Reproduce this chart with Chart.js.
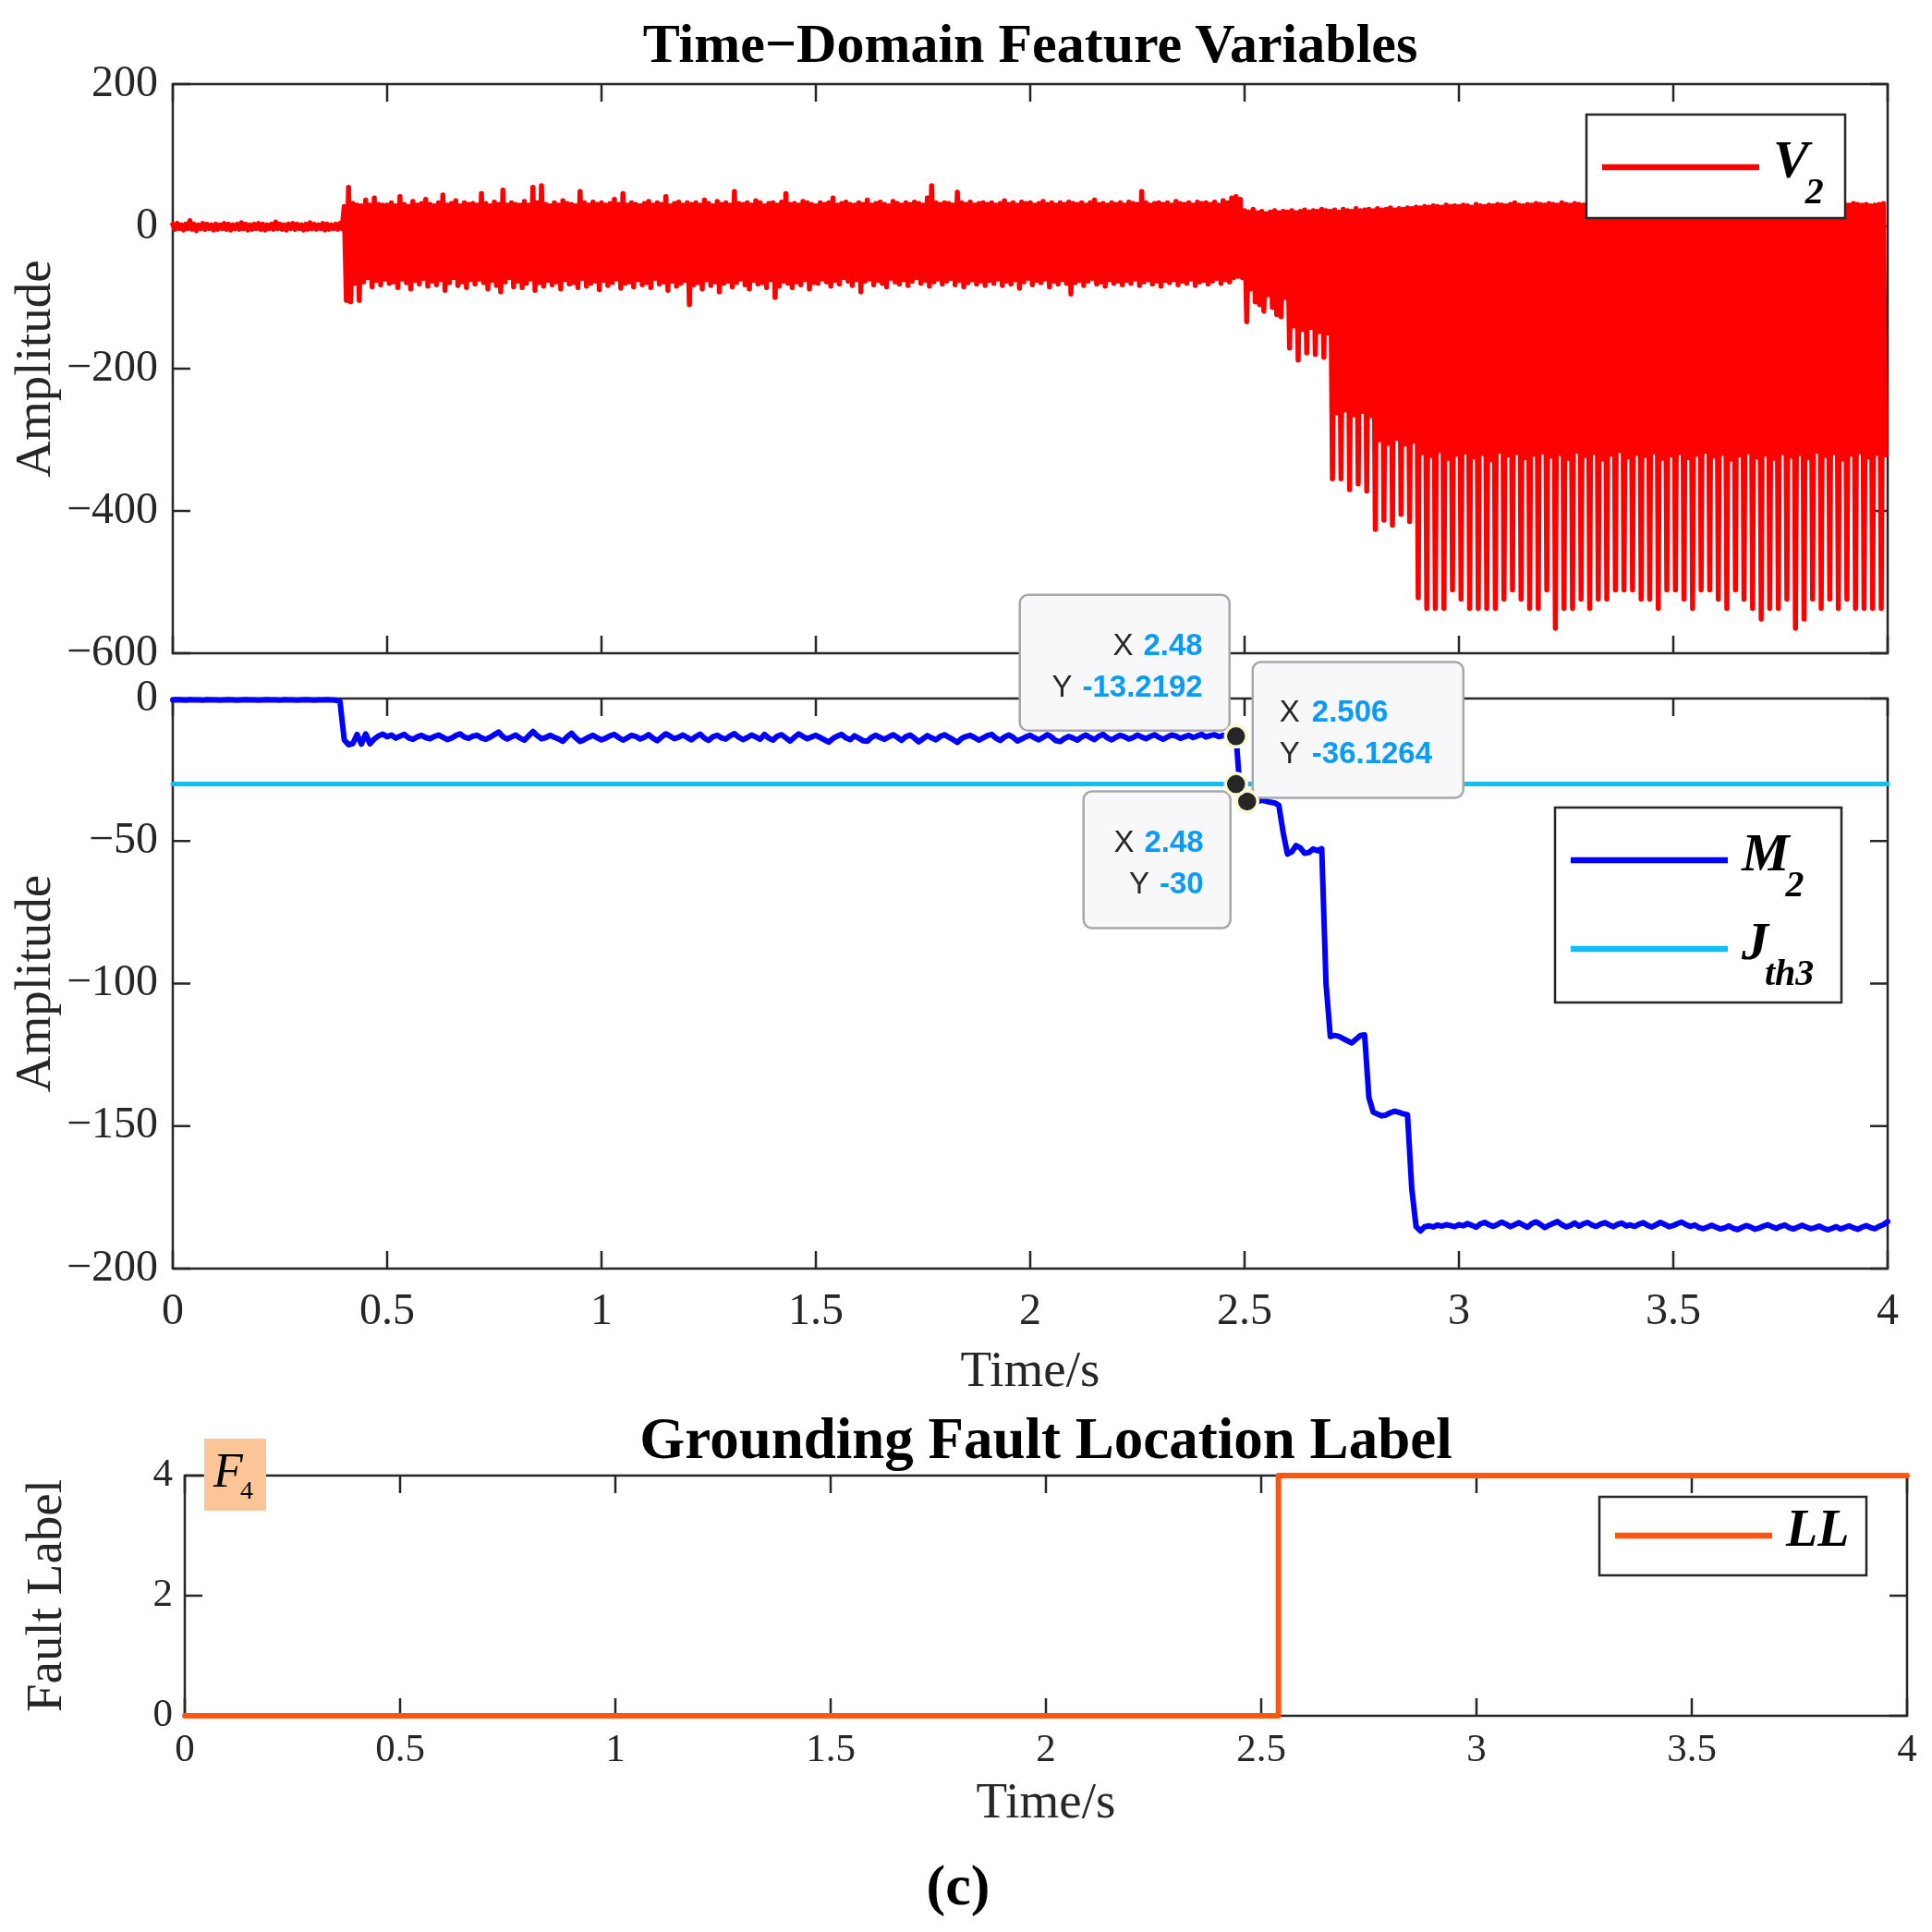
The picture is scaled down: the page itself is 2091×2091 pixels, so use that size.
<!DOCTYPE html>
<html>
<head>
<meta charset="utf-8">
<title>Time-Domain Feature Variables</title>
<script src="https://cdn.jsdelivr.net/npm/chart.js@4.4.1/dist/chart.umd.min.js"></script>
<style>
  html, body { margin: 0; padding: 0; background: #fff; }
  #figure { position: relative; width: 2091px; height: 2091px; overflow: hidden; background: #fff; }
  #figure canvas { position: absolute; left: 0; }
  .label { position: absolute; transform: translate(-50%, -50%); white-space: nowrap; line-height: 1;
           font-family: 'Liberation Serif', 'Times New Roman', serif; font-weight: bold; color: #000; }
</style>
</head>
<body>
<div id="figure">
  <canvas id="chartV2" width="2091" height="760" style="top:0px"></canvas>
  <canvas id="chartM2" width="2091" height="900" style="top:620px"></canvas>
  <canvas id="chartLabel" width="2091" height="480" style="top:1520px"></canvas>
  <div class="label" style="left:1115px;top:47px;font-size:60px">Time−Domain Feature Variables</div>
  <div class="label" style="left:1132px;top:1557px;font-size:63px">Grounding Fault Location Label</div>
  <div class="label" style="left:1037px;top:2040px;font-size:62px">(c)</div>
</div>
<script>
const FONT = "'Liberation Serif', 'Times New Roman', serif";
const SANS = "'Liberation Sans', Arial, sans-serif";
const INK = '#262626';

// sampling step of the recorded signals (seconds)
const sampleStep = 0.01;

// tick labels
const timeTicks = [0, 0.5, 1, 1.5, 2, 2.5, 3, 3.5, 4];
const v2Ticks = [-600, -400, -200, 0, 200];
const m2Ticks = [-200, -150, -100, -50, 0];
const labelTicks = [0, 2, 4];

// V2: local maximum / minimum of each 0.01 s sample window
const v2Upper = [
  3, 4, 2, 3, 8, 3, 2, 4, 3, 2,   3, 2, 4, 3, 2, 3, 5, 3, 2, 3,
  4, 3, 2, 3, 6, 3, 2, 3, 4, 3,   2, 3, 5, 3, 2, 4, 3, 2, 3, 4,
  28, 55, 32, 30, 29, 37, 30, 40, 31, 30,   30, 33, 29, 42, 31, 28, 35, 30, 32, 38,
  31, 29, 33, 44, 30, 32, 36, 29, 33, 31,   32, 30, 46, 32, 29, 34, 31, 51, 30, 33,
  31, 30, 35, 30, 55, 33, 57, 31, 29, 33,   30, 36, 32, 31, 29, 49, 33, 30, 34, 31,
  33, 30, 32, 38, 31, 46, 30, 33, 31, 29,   32, 35, 30, 33, 31, 42, 29, 32, 34, 30,
  33, 31, 33, 30, 37, 32, 29, 35, 31, 33,   30, 49, 32, 31, 33, 30, 36, 33, 29, 32,
  33, 30, 34, 46, 31, 32, 30, 35, 33, 31,   29, 33, 31, 33, 40, 30, 32, 34, 31, 30,
  33, 31, 37, 30, 32, 34, 31, 29, 35, 32,   30, 33, 31, 34, 32, 30, 40, 57, 33, 31,
  33, 32, 30, 48, 33, 31, 34, 30, 32, 33,   31, 33, 30, 32, 36, 31, 33, 30, 34, 32,
  33, 30, 32, 35, 31, 33, 30, 33, 31, 34,   32, 31, 33, 30, 33, 37, 31, 32, 30, 33,
  31, 33, 30, 34, 32, 31, 49, 33, 30, 32,   33, 31, 33, 30, 35, 32, 31, 33, 30, 34,
  32, 33, 31, 34, 30, 36, 33, 40, 42, 38,   22, 20, 24, 19, 21, 18, 20, 22, 19, 21,
  20, 22, 19, 21, 23, 20, 22, 21, 24, 22,   21, 23, 20, 24, 22, 21, 25, 22, 23, 24,
  22, 25, 23, 24, 26, 23, 25, 24, 26, 25,   27, 26, 28, 27, 29, 28, 27, 30, 28, 29,
  28, 30, 29, 27, 31, 29, 28, 30, 29, 31,   30, 29, 31, 33, 30, 29, 31, 30, 32, 31,
  30, 32, 31, 30, 33, 31, 30, 32, 31, 30,   32, 31, 33, 30, 31, 32, 30, 31, 33, 31,
  30, 32, 31, 33, 30, 31, 32, 30, 31, 32,   31, 30, 32, 31, 30, 33, 31, 30, 32, 31,
  30, 31, 32, 30, 31, 33, 30, 32, 31, 30,   31, 32, 30, 31, 33, 30, 31, 32, 30, 31,
  32, 30, 31, 30, 32, 31, 30, 31, 32, 30,   31, 30, 32, 31, 30, 31, 29, 30, 31, 32
];
const v2Lower = [
  -4, -3, -5, -3, -4, -6, -3, -4, -3, -5,   -4, -3, -4, -5, -3, -4, -3, -5, -4, -3,
  -4, -5, -3, -4, -3, -4, -5, -3, -4, -3,   -5, -4, -3, -4, -3, -5, -4, -3, -4, -3,
  -104, -106, -80, -104, -78, -72, -85, -76, -82, -74,   -80, -78, -86, -74, -79, -88, -76, -81, -73, -84,
  -77, -82, -75, -90, -79, -72, -83, -78, -86, -75,   -81, -74, -79, -88, -76, -83, -92, -78, -72, -85,
  -77, -86, -80, -74, -90, -79, -84, -76, -82, -78,   -88, -75, -81, -79, -86, -73, -84, -80, -77, -89,
  -76, -83, -79, -74, -87, -80, -78, -85, -75, -82,   -79, -86, -73, -81, -78, -90, -77, -84, -80, -76,
  -110, -82, -79, -88, -75, -83, -78, -92, -80, -77,   -85, -79, -74, -82, -88, -76, -81, -79, -86, -75,
  -100, -84, -77, -80, -86, -78, -82, -75, -88, -79,   -80, -74, -78, -84, -76, -81, -72, -77, -83, -75,
  -92, -77, -74, -82, -76, -80, -85, -73, -78, -81,   -75, -83, -77, -72, -80, -76, -84, -78, -74, -81,
  -77, -73, -82, -76, -85, -79, -75, -81, -77, -83,   -76, -80, -74, -83, -77, -81, -75, -87, -78, -73,
  -82, -76, -79, -74, -85, -77, -81, -75, -80, -95,   -79, -76, -83, -77, -73, -81, -78, -84, -75, -80,
  -77, -82, -76, -80, -74, -83, -78, -75, -81, -77,   -84, -76, -79, -75, -82, -77, -80, -74, -83, -78,
  -76, -81, -77, -73, -80, -75, -78, -72, -70, -72,   -134, -88, -106, -110, -119, -96, -114, -124, -127, -100,
  -171, -140, -188, -145, -178, -142, -180, -148, -184, -150,   -355, -262, -355, -258, -370, -265, -362, -260, -372, -266,
  -426, -300, -413, -305, -420, -298, -405, -306, -415, -302,   -522, -318, -537, -322, -537, -315, -537, -326, -511, -320,
  -524, -317, -537, -324, -537, -319, -537, -328, -537, -316,   -524, -321, -511, -318, -524, -325, -537, -320, -537, -317,
  -511, -323, -565, -319, -537, -326, -537, -316, -524, -322,   -537, -318, -524, -327, -524, -320, -511, -315, -511, -324,
  -511, -319, -524, -322, -524, -317, -537, -326, -511, -321,   -511, -318, -524, -325, -537, -320, -511, -316, -511, -323,
  -524, -319, -537, -327, -511, -321, -524, -317, -537, -324,   -552, -320, -537, -326, -537, -318, -524, -323, -565, -319,
  -552, -325, -524, -316, -537, -322, -524, -318, -537, -327,   -524, -320, -537, -317, -537, -324, -537, -319, -537, -321
];

// M2: one value every 0.01 s from 0 to 4 s
const m2Values = [
  -0.5, -0.4, -0.5, -0.6, -0.4, -0.5, -0.5, -0.6, -0.4, -0.5,
  -0.5, -0.6, -0.5, -0.4, -0.5, -0.6, -0.5, -0.4, -0.5, -0.5,
  -0.6, -0.5, -0.4, -0.5, -0.5, -0.6, -0.4, -0.5, -0.5, -0.6,
  -0.5, -0.4, -0.5, -0.6, -0.5, -0.5, -0.4, -0.5, -0.6, -1.0,
  -14.5, -16.2, -15.8, -12.6, -16.0, -12.4, -15.9, -14.2, -13.1, -12.5,
  -13.4, -12.8, -13.9, -13.2, -12.6, -13.8, -14.3, -13.5, -12.9, -13.7,
  -14.1, -13.3, -12.8, -13.6, -14.4, -13.9, -13.0, -12.4, -13.5, -14.0,
  -13.2, -12.9, -13.8, -14.3, -13.6, -12.7, -11.8, -13.4, -14.2, -13.5,
  -12.8, -13.9, -14.6, -13.1, -11.6, -13.0, -14.1, -13.7, -12.9, -13.6,
  -14.2, -15.0, -13.4, -12.2, -13.8, -15.1, -14.4, -13.6, -12.9, -13.8,
  -14.5, -13.9, -13.1, -12.6, -13.7, -14.6, -13.8, -12.9, -13.3, -14.2,
  -13.6, -12.7, -13.9, -14.8, -13.5, -12.4, -13.2, -14.1, -13.6, -12.8,
  -13.7, -14.5, -13.3, -12.5, -13.9, -14.7, -13.4, -12.9, -13.8, -14.2,
  -13.1, -12.3, -13.6, -14.4, -13.7, -12.8, -13.5, -14.3, -12.6, -13.9,
  -14.6, -13.2, -12.7, -13.8, -14.9, -13.6, -12.4, -13.3, -14.1, -13.5,
  -12.9, -13.7, -14.5, -15.3, -14.0, -13.2, -12.6, -13.8, -14.4, -13.1,
  -13.9, -14.8, -15.0, -13.6, -12.9, -13.7, -14.3, -13.5, -12.7, -13.6,
  -14.7, -13.4, -12.8, -13.9, -15.2, -14.1, -13.0, -13.8, -14.5, -13.3,
  -12.7, -13.6, -14.4, -15.4, -14.0, -13.3, -12.9, -13.7, -14.6, -13.8,
  -13.0, -12.6, -13.9, -14.7, -13.5, -12.8, -13.6, -14.9, -14.2, -13.4,
  -12.9, -13.8, -14.5, -13.6, -12.7, -13.5, -14.8, -15.1, -14.0, -13.3,
  -13.9, -14.6, -13.5, -12.8, -13.7, -14.4, -13.2, -12.6, -13.8, -14.5,
  -13.6, -12.9, -13.4, -14.2, -13.7, -12.8, -13.5, -14.1, -13.3, -12.7,
  -13.6, -14.3, -13.5, -12.8, -13.2, -14.0, -13.4, -12.9, -13.7, -13.1,
  -12.6, -13.5, -13.0, -12.7, -13.4, -12.9, -13.6, -13.1, -13.2192, -33.5,
  -35.8, -36.3, -35.9, -36.2, -35.7, -36.0, -36.4, -36.6, -37.5, -47.0,
  -54.6, -53.8, -51.6, -52.4, -54.3, -54.0, -52.8, -53.4, -52.7, -100.0,
  -118.6, -118.2, -118.5, -119.3, -120.1, -120.8, -119.5, -118.2, -118.0, -140.0,
  -145.1, -145.8, -146.4, -146.1, -145.3, -144.8, -145.2, -145.7, -146.0, -172.0,
  -185.2, -186.8, -185.3, -185.0, -185.4, -184.7, -185.1, -184.6, -184.9, -185.3,
  -184.6, -185.0, -184.2, -184.8, -185.5, -184.3, -183.8, -184.6, -185.2, -184.5,
  -183.7, -184.4, -185.3, -184.6, -183.9, -184.7, -185.5, -184.2, -183.6, -184.5,
  -185.6, -184.8, -184.1, -183.5, -184.6, -185.4, -184.9, -184.0, -185.1, -184.3,
  -183.8, -184.7, -185.2, -184.4, -183.9, -184.6, -185.3, -184.5, -184.0, -185.0,
  -184.7, -185.2, -184.4, -183.9, -184.8, -185.4, -184.6, -183.8, -184.5, -185.3,
  -184.9, -184.2, -183.7, -184.6, -185.2, -184.7, -185.6, -186.0, -185.4, -184.8,
  -185.5, -186.1, -185.7, -185.0, -185.9, -186.3, -185.6, -184.9, -185.4, -186.2,
  -185.8, -185.1, -184.6, -185.3, -185.9, -185.2, -184.7, -185.6, -186.1, -185.5,
  -184.8, -185.4, -186.0, -185.7, -185.1, -185.8, -186.4, -185.9, -185.3, -186.1,
  -185.6, -185.0, -185.7, -186.2, -185.5, -184.9, -185.6, -186.0, -185.2, -184.6,
  -183.5
];

// threshold J_th3
const jth3Time = [0, 4];
const jth3Values = [-30, -30];

// fault label LL
const llTime = [0, 2.54, 2.54, 4];
const llValues = [0, 0, 4, 4];

// data tips shown on the M2 panel
const tipTime = [2.48, 2.506, 2.48];
const tipValue = [-13.2192, -36.1264, -30];

// build point lists for the library
const v2Points = [];
v2Upper.forEach((hi, i) => {
  v2Points.push({ x: i * sampleStep, y: hi });
  v2Points.push({ x: i * sampleStep + sampleStep / 2, y: v2Lower[i] });
});
const m2Points = m2Values.map((v, i) => ({ x: i * sampleStep, y: v }));
const jth3Points = jth3Time.map((t, i) => ({ x: t, y: jth3Values[i] }));
const llPoints = llTime.map((t, i) => ({ x: t, y: llValues[i] }));

function minusLabel(v) {
  return v < 0 ? '\u2212' + Math.abs(v) : String(v);
}

// MATLAB style box with inward ticks on all four sides
const frameTicks = {
  id: 'frameTicks',
  beforeDatasetsDraw(chart, args, opts) {
    const { ctx, chartArea: a, scales: { x, y } } = chart;
    const len = 19;
    ctx.save();
    ctx.strokeStyle = INK;
    ctx.lineWidth = 2.5;
    ctx.beginPath();
    opts.xTicks.forEach(v => {
      const px = x.getPixelForValue(v);
      ctx.moveTo(px, a.bottom); ctx.lineTo(px, a.bottom - len);
      ctx.moveTo(px, a.top); ctx.lineTo(px, a.top + len);
    });
    opts.yTicks.forEach(v => {
      const py = y.getPixelForValue(v);
      ctx.moveTo(a.left, py); ctx.lineTo(a.left + len, py);
      ctx.moveTo(a.right, py); ctx.lineTo(a.right - len, py);
    });
    ctx.stroke();
    ctx.strokeRect(a.left, a.top, a.right - a.left, a.bottom - a.top);
    ctx.restore();
  }
};

// boxed legend with italic names and subscripts
const boxLegend = {
  id: 'boxLegend',
  afterDatasetsDraw(chart, args, opts) {
    const { ctx, chartArea: a } = chart;
    const left = a.right - opts.right - opts.width;
    const top = a.top + opts.top;
    ctx.save();
    ctx.fillStyle = '#fff';
    ctx.fillRect(left, top, opts.width, opts.height);
    ctx.strokeStyle = INK;
    ctx.lineWidth = 2.5;
    ctx.strokeRect(left, top, opts.width, opts.height);
    opts.rows.forEach(row => {
      const ds = chart.data.datasets[row.dataset];
      const ry = top + row.y;
      ctx.strokeStyle = ds.borderColor;
      ctx.lineWidth = 6.5;
      ctx.beginPath();
      ctx.moveTo(left + 17, ry);
      ctx.lineTo(left + 187, ry);
      ctx.stroke();
      ctx.fillStyle = '#000';
      ctx.textBaseline = 'alphabetic';
      ctx.textAlign = 'left';
      ctx.font = 'italic bold ' + opts.size + 'px ' + FONT;
      const tx = left + 202;
      ctx.fillText(row.name, tx, ry + 11);
      const w = ctx.measureText(row.name).width;
      if (row.sub) {
        ctx.font = 'italic bold 40px ' + FONT;
        ctx.fillText(row.sub, tx + w - 4, ry + 39);
      }
    });
    ctx.restore();
  }
};

function roundedBox(ctx, x, y, w, h, r) {
  ctx.beginPath();
  ctx.moveTo(x + r, y);
  ctx.arcTo(x + w, y, x + w, y + h, r);
  ctx.arcTo(x + w, y + h, x, y + h, r);
  ctx.arcTo(x, y + h, x, y, r);
  ctx.arcTo(x, y, x + w, y, r);
  ctx.closePath();
}

// MATLAB data tips
const dataTips = {
  id: 'dataTips',
  afterDatasetsDraw(chart, args, opts) {
    const { ctx, scales: { x, y } } = chart;
    ctx.save();
    const pts = tipTime.map((t, i) => ({ px: x.getPixelForValue(t), py: y.getPixelForValue(tipValue[i]) }));
    opts.boxes.forEach((b, i) => {
      const { px, py } = pts[i];
      const bx = px + b.left, by = py + b.top;
      roundedBox(ctx, bx, by, b.w, b.h, 9);
      ctx.fillStyle = '#f8f8fb';
      ctx.fill();
      ctx.strokeStyle = '#a8a8a8';
      ctx.lineWidth = 2.5;
      ctx.stroke();
      const lines = [['X', String(tipTime[i])], ['Y', String(tipValue[i])]];
      lines.forEach((ln, k) => {
        const base = by + 65 + k * 45;
        ctx.textBaseline = 'alphabetic';
        ctx.font = '33px ' + SANS;
        const lw = ctx.measureText(ln[0]).width;
        ctx.font = 'bold 33px ' + SANS;
        const vw = ctx.measureText(ln[1]).width;
        let lx, vx;
        if (b.align === 'right') {
          vx = bx + b.w - 29 - vw;
          lx = vx - 11 - lw;
        } else {
          lx = bx + 29;
          vx = lx + lw + 13;
        }
        ctx.textAlign = 'left';
        ctx.font = '33px ' + SANS;
        ctx.fillStyle = INK;
        ctx.fillText(ln[0], lx, base);
        ctx.font = 'bold 33px ' + SANS;
        ctx.fillStyle = '#0a9cf5';
        ctx.fillText(ln[1], vx, base);
      });
    });
    pts.forEach(p => {
      ctx.beginPath();
      ctx.arc(p.px, p.py, 11.5, 0, Math.PI * 2);
      ctx.fillStyle = '#262626';
      ctx.fill();
      ctx.strokeStyle = '#fbf8d6';
      ctx.lineWidth = 3.5;
      ctx.stroke();
    });
    ctx.restore();
  }
};

// small shaded tag in the corner of the label panel
const cornerTag = {
  id: 'cornerTag',
  afterDatasetsDraw(chart, args, opts) {
    const { ctx, chartArea: a } = chart;
    const bx = a.left + 21, by = a.top - 40;
    ctx.save();
    ctx.fillStyle = '#fcc598';
    ctx.fillRect(bx, by, 67, 78);
    ctx.fillStyle = '#000';
    ctx.textBaseline = 'alphabetic';
    ctx.textAlign = 'left';
    ctx.font = 'italic 52px ' + FONT;
    ctx.fillText(opts.name, bx + 10, by + 52);
    ctx.font = '28px ' + FONT;
    ctx.fillText(opts.sub, bx + 39, by + 65);
    ctx.restore();
  }
};

function yAxis(ticks, width, size, text, titlePad, tickPad) {
  return {
    type: 'linear',
    min: ticks[0],
    max: ticks[ticks.length - 1],
    afterBuildTicks: s => { s.ticks = ticks.map(v => ({ value: v })); },
    afterFit: s => { s.width = width; },
    grid: { display: false, drawTicks: false },
    border: { display: false },
    ticks: { padding: tickPad, color: INK, font: { family: FONT, size: size }, callback: minusLabel },
    title: { display: true, text: text, color: INK, font: { family: FONT, size: 55 }, padding: { top: titlePad, bottom: 0 } }
  };
}

function xAxis(height, size, tickPad, titlePad, show) {
  return {
    type: 'linear',
    display: show,
    min: 0,
    max: 4,
    afterBuildTicks: s => { s.ticks = timeTicks.map(v => ({ value: v })); },
    afterFit: s => { s.height = height; },
    grid: { display: false, drawTicks: false },
    border: { display: false },
    ticks: { padding: tickPad, color: INK, font: { family: FONT, size: size }, callback: v => String(v), maxRotation: 0, autoSkip: false },
    title: { display: true, text: 'Time/s', color: INK, font: { family: FONT, size: 55 }, padding: { top: 0, bottom: titlePad } }
  };
}

const baseOptions = {
  responsive: false,
  animation: false,
  devicePixelRatio: 1,
  events: [],
  elements: { point: { radius: 0 }, line: { tension: 0, borderJoinStyle: 'round', borderCapStyle: 'round' } },
};

// top panel: V2
new Chart(document.getElementById('chartV2'), {
  type: 'line',
  data: {
    datasets: [{ label: 'V2', data: v2Points, borderColor: '#ff0000', borderWidth: 5.5, clip: 4 }]
  },
  options: Object.assign({}, baseOptions, {
    layout: { autoPadding: false, padding: { top: 91, right: 48, bottom: 53, left: 0 } },
    scales: {
      x: xAxis(0, 48, 19, 1, false),
      y: yAxis(v2Ticks, 187, 48, 'Amplitude', 7, 16)
    },
    plugins: {
      legend: { display: false },
      tooltip: { enabled: false },
      frameTicks: { xTicks: timeTicks, yTicks: v2Ticks },
      boxLegend: { right: 46, top: 33, width: 280, height: 112, size: 58, rows: [{ dataset: 0, name: 'V', sub: '2', y: 57 }] }
    }
  }),
  plugins: [frameTicks, boxLegend]
});

// middle panel: M2 and threshold
new Chart(document.getElementById('chartM2'), {
  type: 'line',
  data: {
    datasets: [
      { label: 'M2', data: m2Points, borderColor: '#0000ff', borderWidth: 6, clip: 4 },
      { label: 'Jth3', data: jth3Points, borderColor: '#10bef0', borderWidth: 5, clip: 4 }
    ]
  },
  options: Object.assign({}, baseOptions, {
    layout: { autoPadding: false, padding: { top: 136, right: 48, bottom: 0, left: 0 } },
    scales: {
      x: xAxis(147, 48, 19, 1, true),
      y: yAxis(m2Ticks, 187, 48, 'Amplitude', 7, 16)
    },
    plugins: {
      legend: { display: false },
      tooltip: { enabled: false },
      frameTicks: { xTicks: timeTicks, yTicks: m2Ticks },
      boxLegend: { right: 50, top: 118, width: 310, height: 211, size: 58, rows: [
        { dataset: 0, name: 'M', sub: '2', y: 57 },
        { dataset: 1, name: 'J', sub: 'th3', y: 153 }
      ] },
      dataTips: { boxes: [
        { left: -234, top: -153, w: 227, h: 147, align: 'right' },
        { left: 6, top: -151, w: 228, h: 147, align: 'left' },
        { left: -165, top: 8, w: 159, h: 148, align: 'right' }
      ] }
    }
  }),
  plugins: [frameTicks, boxLegend, dataTips]
});

// bottom panel: fault location label
new Chart(document.getElementById('chartLabel'), {
  type: 'line',
  data: {
    datasets: [{ label: 'LL', data: llPoints, borderColor: '#ff550f', borderWidth: 6, clip: 5 }]
  },
  options: Object.assign({}, baseOptions, {
    layout: { autoPadding: false, padding: { top: 77, right: 27, bottom: 0, left: 0 } },
    scales: {
      x: xAxis(143, 43, 12, 14, true),
      y: yAxis(labelTicks, 200, 43, 'Fault Label', 19, 13)
    },
    plugins: {
      legend: { display: false },
      tooltip: { enabled: false },
      frameTicks: { xTicks: timeTicks, yTicks: labelTicks },
      boxLegend: { right: 44, top: 23, width: 289, height: 85, size: 56, rows: [{ dataset: 0, name: 'LL', sub: '', y: 42 }] },
      cornerTag: { name: 'F', sub: '4' }
    }
  }),
  plugins: [frameTicks, boxLegend, cornerTag]
});
</script>
</body>
</html>
